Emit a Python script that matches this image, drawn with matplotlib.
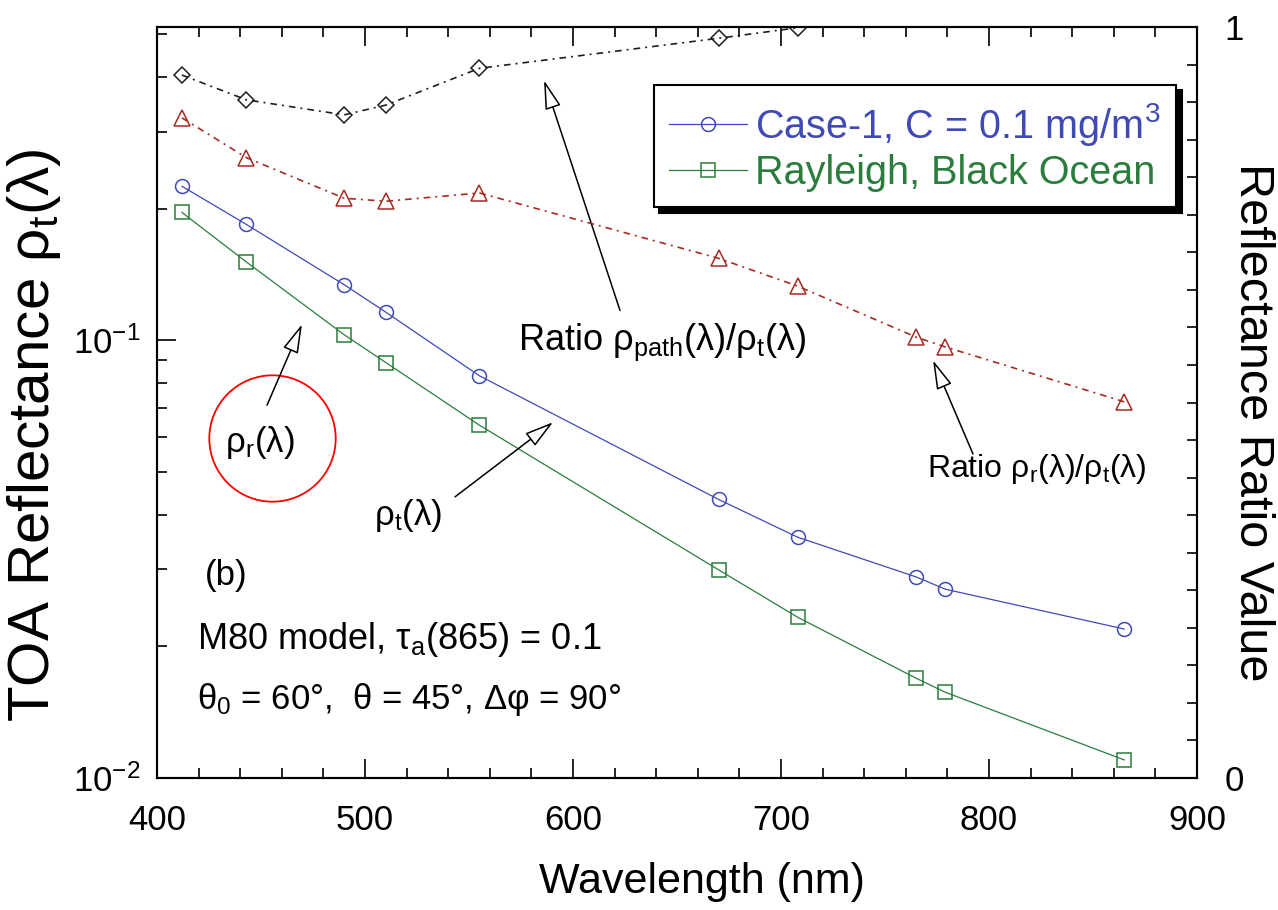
import matplotlib
matplotlib.use('Agg')
import matplotlib.pyplot as plt
from matplotlib.ticker import MultipleLocator, LogLocator, NullFormatter, FixedLocator

plt.rcParams['font.family'] = ['Liberation Sans', 'DejaVu Sans']
plt.rcParams['mathtext.default'] = 'regular'

# ---- data ----
wavelength = [412, 443, 490, 510, 555, 670, 708, 765, 779, 865]
rho_t_case1 = [0.225, 0.184, 0.134, 0.116, 0.083, 0.0433, 0.0355, 0.0288, 0.0270, 0.0219]
rho_r_rayleigh = [0.196, 0.151, 0.103, 0.089, 0.064, 0.0299, 0.0233, 0.0169, 0.0157, 0.0110]
ratio_r_t = [0.879, 0.826, 0.772, 0.768, 0.779, 0.692, 0.655, 0.587, 0.574, 0.501]
ratio_path_wl = [412, 443, 490, 510, 555, 670, 708]
ratio_path_t = [0.936, 0.903, 0.883, 0.896, 0.945, 0.985, 0.999]

legend_labels = ['Case-1, C = 0.1 mg/m$^3$', 'Rayleigh, Black Ocean']

blue = '#3f4ab6'
green = '#2a7d3c'
red = '#a52a22'
dark = '#1e1e1e'

fig = plt.figure(figsize=(12.78, 9.10), dpi=100)
ax = fig.add_axes([157/1278, 132/910, 1040/1278, 751/910])
ax2 = ax.twinx()

ax.set_yscale('log')
ax.set_xlim(400, 900)
ax.set_ylim(0.01, 0.52)
ax2.set_ylim(0, 1)

l1, = ax.plot(wavelength, rho_t_case1, '-', color=blue, lw=0.9, marker='o', ms=10,
              mfc='none', mec=blue, mew=1.1, label=legend_labels[0])
l2, = ax.plot(wavelength, rho_r_rayleigh, '-', color=green, lw=0.9, marker='s', ms=10,
              mfc='none', mec=green, mew=1.1, label=legend_labels[1])
ax2.plot(wavelength, ratio_r_t, color=red, lw=1.2, ls=(0, (4, 3, 1.2, 3)), marker='^', ms=11,
         mfc='none', mec=red, mew=1.1)
ax2.plot(ratio_path_wl, ratio_path_t, color=dark, lw=1.2, ls=(0, (4, 3, 1.2, 3)), marker='D', ms=8,
         mfc='none', mec=dark, mew=1.1)

# ticks
ax.xaxis.set_major_locator(MultipleLocator(100))
ax.xaxis.set_minor_locator(MultipleLocator(20))
ax.yaxis.set_major_locator(LogLocator(base=10))
ax.yaxis.set_minor_locator(LogLocator(base=10, subs=range(2, 10)))
ax.yaxis.set_minor_formatter(NullFormatter())
ax.tick_params(axis='both', which='both', direction='in', top=True, right=False, width=1.2)
ax.tick_params(axis='both', which='major', length=14, labelsize=25)
ax.tick_params(axis='both', which='minor', length=7)
ax.tick_params(axis='x', which='major', pad=19)
ax.tick_params(axis='y', which='major', pad=12)

ax2.yaxis.set_major_locator(FixedLocator([0, 1]))
ax2.yaxis.set_minor_locator(MultipleLocator(0.05))
ax2.set_yticklabels(['0', '1'])
ax2.tick_params(axis='y', which='both', direction='in', width=1.2, labelsize=25, pad=20)
ax2.tick_params(axis='y', which='major', length=7)
ax2.tick_params(axis='y', which='minor', length=7)

for a in (ax, ax2):
    for s in a.spines.values():
        s.set_linewidth(1.5)

ax.set_xlabel('Wavelength (nm)', fontsize=31)
ax.set_ylabel('TOA Reflectance ρ$_t$(λ)', fontsize=42)
ax2.set_ylabel('Reflectance Ratio Value', fontsize=35, rotation=270)
ax.xaxis.set_label_coords(0.524, -0.112)
ax.yaxis.set_label_coords(-0.09, 0.457)
ax2.yaxis.set_label_coords(1.075, 0.474)

# annotations
arrow_kw = dict(arrowstyle='-|>,head_length=0.9,head_width=0.25', fc='white', ec='black',
                lw=1.1, mutation_scale=20, shrinkA=0, shrinkB=0)
ax.annotate('', xy=(469.7, 0.1088), xytext=(452.9, 0.0711), arrowprops=arrow_kw)
ax.annotate('', xy=(590.4, 0.065), xytext=(543.3, 0.0439), arrowprops=arrow_kw)
ax.annotate('', xy=(586.1, 0.3926), xytext=(622.6, 0.117), arrowprops=arrow_kw)
ax.annotate('', xy=(773.1, 0.09), xytext=(792.3, 0.055), arrowprops=arrow_kw)

txt = 25
ax.text(449.5, 0.0585, 'ρ$_r$(λ)', fontsize=txt, ha='center', va='center')
ax.text(520.7, 0.0398, 'ρ$_t$(λ)', fontsize=txt, ha='center', va='center')
ax.text(642.8, 0.099, 'Ratio ρ$_{path}$(λ)/ρ$_t$(λ)', fontsize=26, ha='center', va='center')
ax.text(823, 0.0507, 'Ratio ρ$_r$(λ)/ρ$_t$(λ)', fontsize=23, ha='center', va='center')
ax.text(0.046, 0.269, '(b)', fontsize=txt, ha='left', va='center', transform=ax.transAxes)
ax.text(0.0385, 0.184, 'M80 model, τ$_a$(865) = 0.1', fontsize=26, ha='left', va='center',
        transform=ax.transAxes)
ax.text(0.0385, 0.104, 'θ$_0$ = 60°,  θ = 45°, Δφ = 90°', fontsize=txt, ha='left', va='center',
        transform=ax.transAxes)

# red highlight circle
circle_center = (455.3, 0.0597)
ax.plot([circle_center[0]], [circle_center[1]], 'o', ms=91, mfc='none', mec='red', mew=1.3)

leg = ax2.legend(handles=[l1, l2], loc='upper right', bbox_to_anchor=(0.98, 0.923),
                 fontsize=28.5, frameon=True, fancybox=False, borderaxespad=0,
                 shadow={'color': 'black', 'alpha': 1, 'ox': 4, 'oy': -4}, handlelength=1.95,
                 labelspacing=0.15, borderpad=0.4, handletextpad=0.21)
leg.get_frame().set_edgecolor('black')
leg.get_frame().set_linewidth(1.5)
for t, l in zip(leg.get_texts(), [l1, l2]):
    t.set_color(l.get_color())

fig.savefig('out.png', dpi=100)
